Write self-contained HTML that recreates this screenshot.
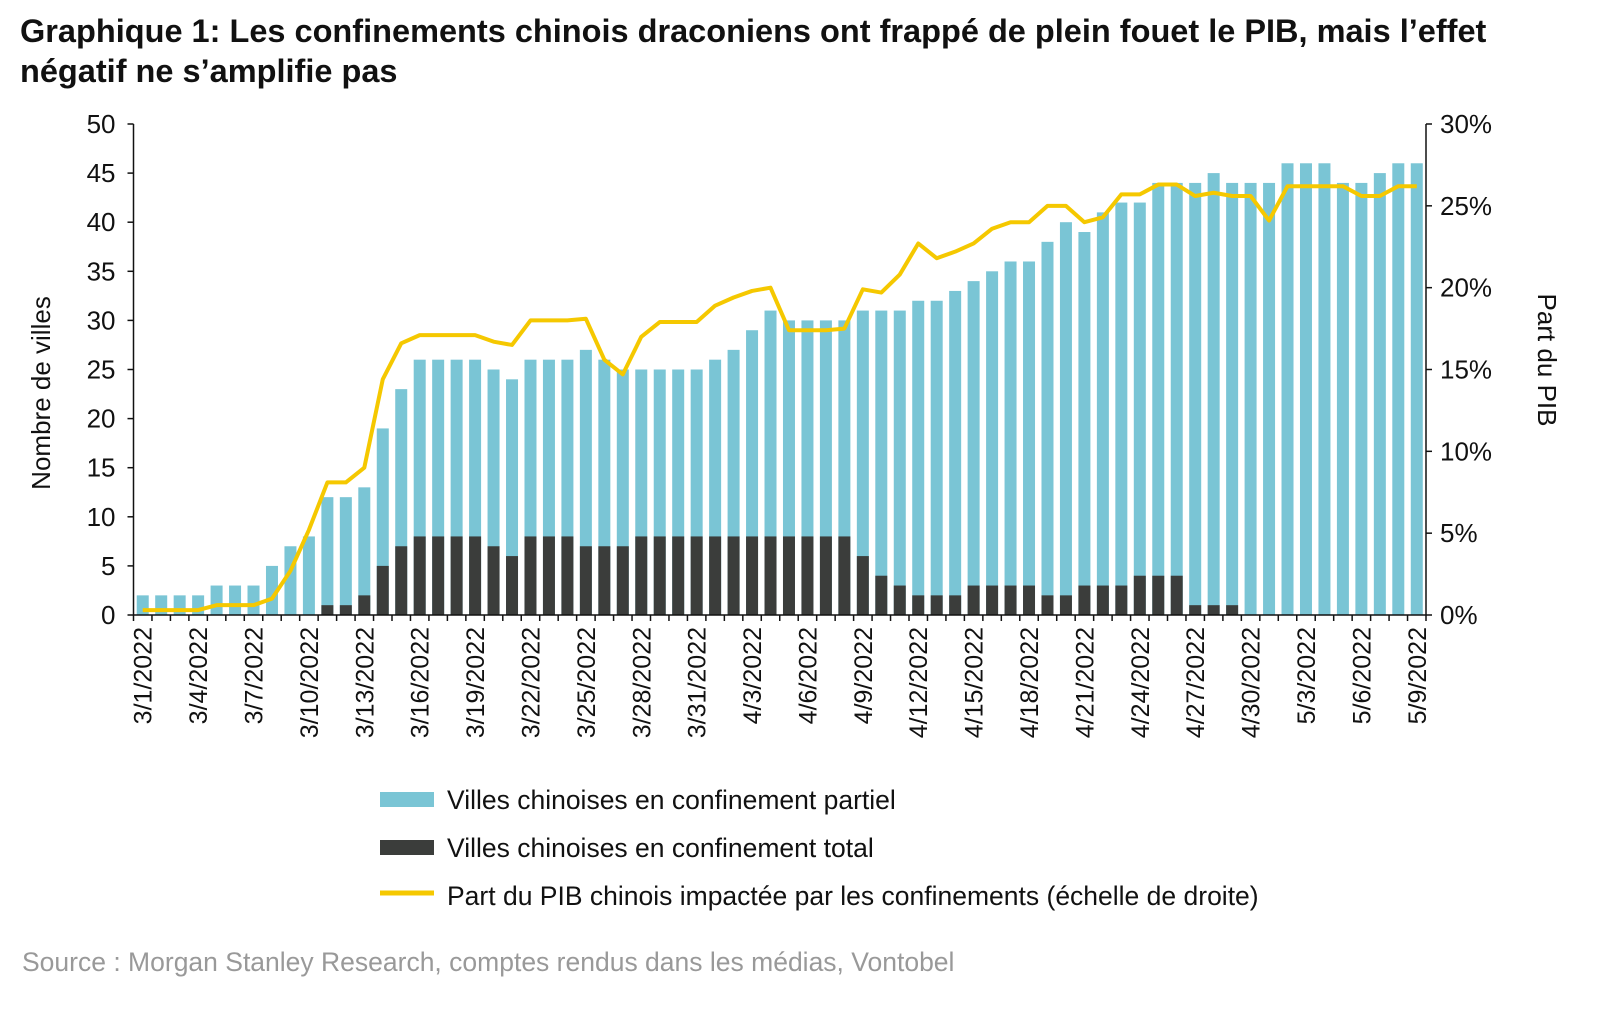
<!DOCTYPE html>
<html><head><meta charset="utf-8"><style>
body{margin:0;background:#fff;font-family:"Liberation Sans",sans-serif}
svg text{font-family:"Liberation Sans",sans-serif}
</style></head><body>
<svg id="c" width="1600" height="1014" xmlns="http://www.w3.org/2000/svg">
<text x="20" y="42" font-size="32.5" font-weight="bold" fill="#111">Graphique 1: Les confinements chinois draconiens ont frappé de plein fouet le PIB, mais l’effet</text>
<text x="20" y="82" font-size="32.5" font-weight="bold" fill="#111">négatif ne s’amplifie pas</text>
<g id="plot"></g>
<text transform="translate(50,393) rotate(-90)" text-anchor="middle" font-size="26" fill="#111">Nombre de villes</text>
<text transform="translate(1538,360) rotate(90)" text-anchor="middle" font-size="26" fill="#111">Part du PIB</text>
<g>
<rect x="380" y="792" width="54" height="15" fill="#7ac5d5"/>
<text x="447" y="809" font-size="26.5" fill="#111">Villes chinoises en confinement partiel</text>
<rect x="380" y="840" width="54" height="15" fill="#3b3d3b"/>
<text x="447" y="857" font-size="26.5" fill="#111">Villes chinoises en confinement total</text>
<line x1="380" y1="893" x2="434" y2="893" stroke="#f5c800" stroke-width="5"/>
<text x="447" y="905" font-size="26.5" fill="#111">Part du PIB chinois impactée par les confinements (échelle de droite)</text>
</g>
<text x="22" y="971" font-size="26.5" fill="#999">Source : Morgan Stanley Research, comptes rendus dans les médias, Vontobel</text>
</svg>
<script>
const partialTotal=[2,2,2,2,3,3,3,5,7,8,12,12,13,19,23,26,26,26,26,25,24,26,26,26,27,26,25,25,25,25,25,26,27,29,31,30,30,30,30,31,31,31,32,32,33,34,35,36,36,38,40,39,41,42,42,44,44,44,45,44,44,44,46,46,46,44,44,45,46,46];
const fullLock=[0,0,0,0,0,0,0,0,0,0,1,1,2,5,7,8,8,8,8,7,6,8,8,8,7,7,7,8,8,8,8,8,8,8,8,8,8,8,8,6,4,3,2,2,2,3,3,3,3,2,2,3,3,3,4,4,4,1,1,1,0,0,0,0,0,0,0,0,0,0];
const gdpShare=[0.3,0.3,0.3,0.3,0.6,0.6,0.6,1,2.7,5.2,8.1,8.1,9,14.4,16.6,17.1,17.1,17.1,17.1,16.7,16.5,18,18,18,18.1,15.6,14.7,17,17.9,17.9,17.9,18.9,19.4,19.8,20,17.4,17.4,17.4,17.5,19.9,19.7,20.8,22.7,21.8,22.2,22.7,23.6,24,24,25,25,24,24.3,25.7,25.7,26.3,26.3,25.6,25.8,25.6,25.6,24.1,26.2,26.2,26.2,26.2,25.6,25.6,26.2,26.2];
const yTicks=[0,5,10,15,20,25,30,35,40,45,50];
const y2Ticks=["0%","5%","10%","15%","20%","25%","30%"];
const NS="http://www.w3.org/2000/svg";
const g=document.getElementById('plot');
const L=133.5,R=1426,T=124,B=615,n=partialTotal.length,step=(R-L)/n;
const x=i=>L+step*(i+0.5), y=v=>B-(B-T)*v/50, y2=p=>B-(B-T)*p/30;
function mk(t,a){const e=document.createElementNS(NS,t);for(const k in a)e.setAttribute(k,a[k]);g.appendChild(e);return e;}
function lbl(i){const d=new Date(2022,2,1+i);return (d.getMonth()+1)+"/"+d.getDate()+"/2022";}
for(let i=0;i<n;i++){
 let r=mk('rect',{x:x(i)-6,y:y(partialTotal[i]),width:12,height:B-y(partialTotal[i]),fill:'#7ac5d5'});
 
 
 if(fullLock[i]>0){let d=mk('rect',{x:x(i)-6,y:y(fullLock[i]),width:12,height:B-y(fullLock[i]),fill:'#3b3d3b'});
 
 }
}
let pts=gdpShare.map((p,i)=>x(i)+","+y2(p)).join(" ");
let pl=mk('polyline',{points:pts,fill:'none',stroke:'#f5c800','stroke-width':4,'stroke-linejoin':'round'});


let ax=mk('path',{d:`M${L},${T}V${B}H${R}M${R},${T}V${B}`,stroke:'#111','stroke-width':1.5,fill:'none'});


yTicks.forEach(v=>{mk('line',{x1:L-6,x2:L,y1:y(v),y2:y(v),stroke:'#111','stroke-width':1.5});
 let t=mk('text',{x:L-18,y:y(v)+9,'text-anchor':'end','font-size':26,fill:'#111'});t.textContent=v;
 
 });
y2Ticks.forEach((s,k)=>{const p=k*5;mk('line',{x1:R,x2:R+6,y1:y2(p),y2:y2(p),stroke:'#111','stroke-width':1.5});
 let t=mk('text',{x:R+14,y:y2(p)+9,'font-size':26,fill:'#111'});t.textContent=s;
 
 });
for(let i=0;i<=n;i++){mk('line',{x1:L+step*i,x2:L+step*i,y1:B,y2:B+6,stroke:'#111','stroke-width':1.5});}
for(let i=0;i<n;i+=3){let t=mk('text',{transform:`translate(${x(i)+9},${B+12}) rotate(-90)`,'text-anchor':'end','font-size':25,fill:'#111'});t.textContent=lbl(i);
 
 }
</script>
</body></html>
